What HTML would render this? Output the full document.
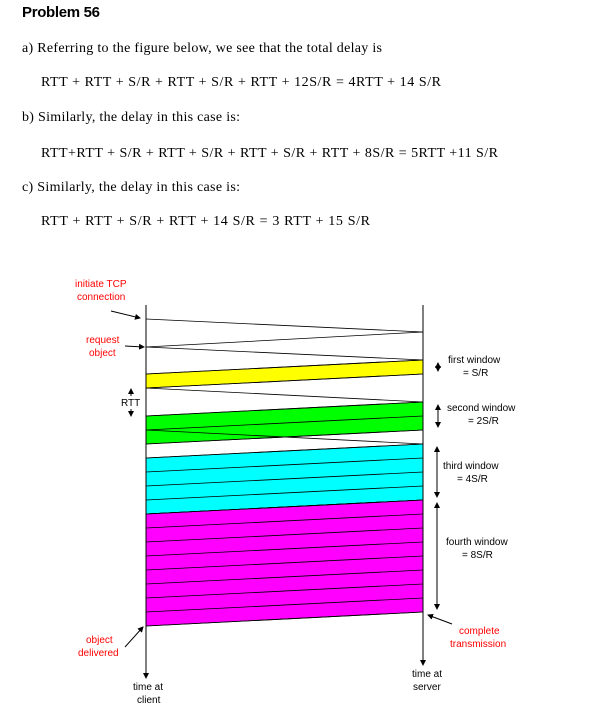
<!DOCTYPE html>
<html><head><meta charset="utf-8"><style>
body{margin:0;background:#fff;width:602px;height:720px;overflow:hidden}
svg{display:block}
.s{font-family:"Liberation Serif",serif;font-size:14px;fill:#000}
.f{font-family:"Liberation Sans",sans-serif;font-size:10px;fill:#000}
.r{font-family:"Liberation Sans",sans-serif;font-size:10px;fill:#f00}
</style></head><body>
<svg id="fig" width="602" height="720" viewBox="0 0 602 720">
<defs><marker id="ah" markerWidth="6" markerHeight="6" refX="5" refY="3" orient="auto"><path d="M0,0 L6,3 L0,6 z" fill="#000"/></marker></defs>
<text x="22" y="17" font-family="Liberation Sans,sans-serif" font-weight="bold" font-size="15" textLength="78">Problem  56</text>
<text class="s" x="22" y="52" textLength="360">a)  Referring  to  the  figure  below,  we  see  that  the  total  delay  is</text>
<text class="s" x="41" y="86" textLength="400">RTT  +  RTT  +  S/R  +  RTT  +  S/R  +  RTT  +  12S/R  =  4RTT  +  14  S/R</text>
<text class="s" x="22" y="121" textLength="218">b)  Similarly,  the  delay  in  this  case  is:</text>
<text class="s" x="41" y="157" textLength="457">RTT+RTT  +  S/R  +  RTT  +  S/R  +  RTT  +  S/R  +  RTT  +  8S/R  =  5RTT  +11  S/R</text>
<text class="s" x="22" y="191" textLength="218">c)  Similarly,  the  delay  in  this  case  is:</text>
<text class="s" x="41" y="225" textLength="329">RTT  +  RTT  +  S/R  +  RTT  +  14  S/R  =  3  RTT  +  15  S/R</text>
<g id="diagram"></g>
<text class="r" x="75" y="287">initiate  TCP</text>
<text class="r" x="77" y="300">connection</text>
<line x1="111" y1="311" x2="140" y2="318" stroke="#000" marker-end="url(#ah)"/>
<text class="r" x="86" y="343">request</text>
<text class="r" x="89" y="356">object</text>
<line x1="125" y1="346" x2="144" y2="347" stroke="#000" marker-end="url(#ah)"/>
<text class="f" x="121" y="406">RTT</text>
<line x1="131" y1="396" x2="131" y2="389" stroke="#000" marker-end="url(#ah)"/>
<line x1="131" y1="409" x2="131" y2="416" stroke="#000" marker-end="url(#ah)"/>
<text class="r" x="86" y="643">object</text>
<text class="r" x="78" y="656">delivered</text>
<line x1="125" y1="647" x2="143" y2="627" stroke="#000" marker-end="url(#ah)"/>
<text class="r" x="459" y="634">complete</text>
<text class="r" x="450" y="647">transmission</text>
<line x1="452" y1="624" x2="428" y2="615" stroke="#000" marker-end="url(#ah)"/>
<text class="f" x="133" y="690">time  at</text>
<text class="f" x="137" y="703">client</text>
<text class="f" x="412" y="677">time  at</text>
<text class="f" x="413" y="690">server</text>
<text class="f" x="448" y="363">first  window</text>
<text class="f" x="463" y="376">=  S/R</text>
<text class="f" x="447" y="411">second  window</text>
<text class="f" x="468" y="424">=  2S/R</text>
<text class="f" x="443" y="469">third  window</text>
<text class="f" x="457" y="482">=  4S/R</text>
<text class="f" x="446" y="545">fourth  window</text>
<text class="f" x="462" y="558">=  8S/R</text>
</svg>
<script>
const windowSizes=[1,2,4,8];
const windowColors=['#ffff00','#00ff00','#00ffff','#ff00ff'];
const windowStarts=[360,402,444,500];
const pktTime=14;
const CX=146,SX=423,NS="http://www.w3.org/2000/svg";
const g=document.getElementById('diagram');
function mk(t,a){const e=document.createElementNS(NS,t);for(const k in a)e.setAttribute(k,a[k]);g.appendChild(e);return e;}
function ln(x1,y1,x2,y2,w){return mk('line',{x1,y1,x2,y2,stroke:'#000','stroke-width':w||0.8});}
// windows
windowSizes.forEach((n,i)=>{
  const s=windowStarts[i],e=s+n*pktTime;
  const p=mk('polygon',{points:`${SX},${s} ${SX},${e} ${CX},${e+pktTime} ${CX},${s+pktTime}`,fill:windowColors[i],stroke:'#000','stroke-width':0.8});
  
  
  for(let k=0;k<=n;k++){ln(SX,s+k*pktTime,CX,s+(k+1)*pktTime);}
  // side brace
  const bx=i<2?438:437;
  const a=ln(bx,s+3,bx,e-3,1);a.setAttribute('marker-end','url(#ah)');
  const b=ln(bx,e-3,bx,s+3,1);b.setAttribute('marker-end','url(#ah)');
});
// handshake, request and acks
ln(CX,319,SX,332);ln(SX,332,CX,347);ln(CX,347,SX,360);
ln(CX,388,SX,402);ln(CX,430,SX,444);
// timelines
const c=ln(CX,305,CX,678,1);c.setAttribute('marker-end','url(#ah)');


const sv=ln(SX,305,SX,665,1);sv.setAttribute('marker-end','url(#ah)');


</script>
</body></html>
